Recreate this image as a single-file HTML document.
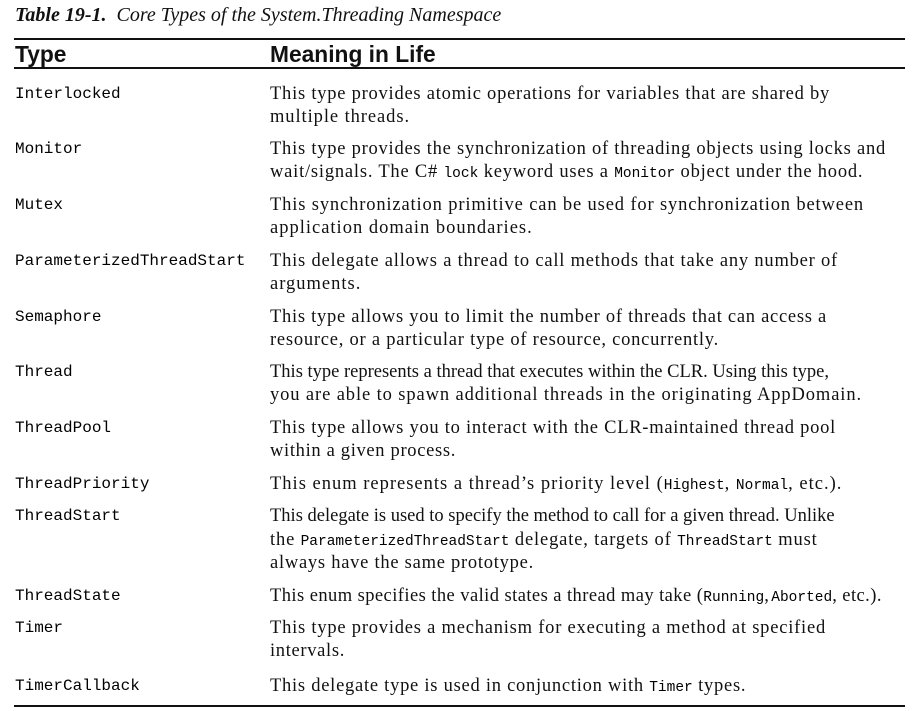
<!DOCTYPE html>
<html><head><meta charset="utf-8"><style>
body{margin:0;width:914px;height:711px;background:#fff;position:relative;overflow:hidden;font-family:"Liberation Serif",serif;color:#111}
.l{position:absolute;white-space:nowrap;line-height:23px;font-size:18.5px;letter-spacing:0.3px}
.m{font-family:"Liberation Mono",monospace;font-size:16px;letter-spacing:0;color:#000}
.c1{left:15px}.c2{left:270px}
.hr{position:absolute;left:14px;width:891px;height:2px;background:#111}
.h{position:absolute;font-family:"Liberation Sans",sans-serif;font-weight:bold;font-size:23px;line-height:26px;top:41px;transform:scaleX(.99);transform-origin:left}
code{font-family:"Liberation Mono",monospace;font-size:14.5px;letter-spacing:0;color:#000}
</style></head><body>
<div class="l" style="left:15px;top:4px;font-style:italic;font-size:20px;letter-spacing:0"><b>Table 19-1.</b>&nbsp; Core Types of the System.Threading Namespace</div>
<div class="hr" style="top:38px"></div>
<div class="h" style="left:15px">Type</div>
<div class="h" style="left:270px">Meaning in Life</div>
<div class="hr" style="top:67px"></div>

<div class="l c1 m" style="top:83px">Interlocked</div>
<div class="l c2" style="top:83px;--w:830">This type provides atomic operations for variables that are shared by</div>
<div class="l c2" style="top:106px;--w:410">multiple threads.</div>

<div class="l c1 m" style="top:138px">Monitor</div>
<div class="l c2" style="top:138px;--w:886">This type provides the synchronization of threading objects using locks and</div>
<div class="l c2" style="top:161px;--w:872">wait/signals. The C# <code>lock</code> keyword uses a <code>Monitor</code> object under the hood.</div>

<div class="l c1 m" style="top:194px">Mutex</div>
<div class="l c2" style="top:194px;--w:864">This synchronization primitive can be used for synchronization between</div>
<div class="l c2" style="top:217px;--w:533">application domain boundaries.</div>

<div class="l c1 m" style="top:250px">ParameterizedThreadStart</div>
<div class="l c2" style="top:250px;--w:838">This delegate allows a thread to call methods that take any number of</div>
<div class="l c2" style="top:273px;--w:362">arguments.</div>

<div class="l c1 m" style="top:306px">Semaphore</div>
<div class="l c2" style="top:306px;--w:827">This type allows you to limit the number of threads that can access a</div>
<div class="l c2" style="top:329px;--w:719">resource, or a particular type of resource, concurrently.</div>

<div class="l c1 m" style="top:361px">Thread</div>
<div class="l c2" style="top:361px;--w:828">This type represents a thread that executes within the CLR. Using this type,</div>
<div class="l c2" style="top:384px;--w:862">you are able to spawn additional threads in the originating AppDomain.</div>

<div class="l c1 m" style="top:417px">ThreadPool</div>
<div class="l c2" style="top:417px;--w:836">This type allows you to interact with the CLR-maintained thread pool</div>
<div class="l c2" style="top:440px;--w:456">within a given process.</div>

<div class="l c1 m" style="top:473px">ThreadPriority</div>
<div class="l c2" style="top:473px;--w:862">This enum represents a thread’s priority level (<code>Highest</code>, <code>Normal</code>, etc.).</div>

<div class="l c1 m" style="top:505px">ThreadStart</div>
<div class="l c2" style="top:505px;--w:834">This delegate is used to specify the method to call for a given thread. Unlike</div>
<div class="l c2" style="top:529px;--w:847">the <code>ParameterizedThreadStart</code> delegate, targets of <code>ThreadStart</code> must</div>
<div class="l c2" style="top:552px;--w:534">always have the same prototype.</div>

<div class="l c1 m" style="top:585px">ThreadState</div>
<div class="l c2" style="top:585px;--w:888">This enum specifies the valid states a thread may take (<code>Running</code>,&#8202;<code>Aborted</code>, etc.).</div>

<div class="l c1 m" style="top:617px">Timer</div>
<div class="l c2" style="top:617px;--w:826">This type provides a mechanism for executing a method at specified</div>
<div class="l c2" style="top:640px;--w:345">intervals.</div>

<div class="l c1 m" style="top:675px">TimerCallback</div>
<div class="l c2" style="top:675px;--w:750">This delegate type is used in conjunction with <code>Timer</code> types.</div>

<div class="hr" style="top:705px"></div>
<script>
document.querySelectorAll('.c2').forEach(function(e){
  var w=parseFloat(getComputedStyle(e).getPropertyValue('--w'));
  if(!w)return;
  e.style.letterSpacing='0px';
  var nat=e.getBoundingClientRect().width;
  var n=e.textContent.length;
  var ls=((w-270)-nat)/n;
  if(ls>1)ls=1; if(ls<0)ls=0;
  e.style.letterSpacing=ls+'px';
});
</script>
</body></html>
